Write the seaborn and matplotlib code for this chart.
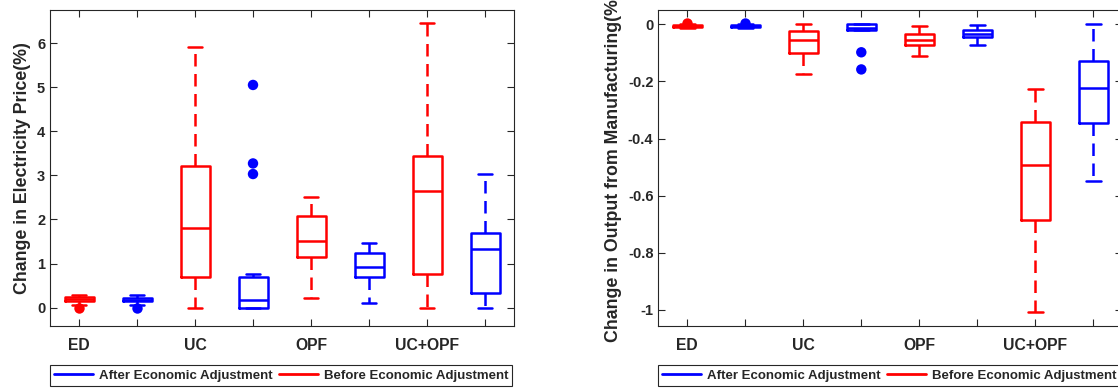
import numpy as np
import pandas as pd
import matplotlib
matplotlib.use("Agg")
import matplotlib.pyplot as plt
from matplotlib.lines import Line2D
from matplotlib.ticker import FuncFormatter
import seaborn as sns

# ---------------- data ----------------
methods = ["ED", "UC", "OPF", "UC+OPF"]
series = ["Before Economic Adjustment", "After Economic Adjustment"]

# five-number summaries per method: [low whisker, Q1, median, Q3, high whisker]
price_before = [[0.07, 0.15, 0.19, 0.23, 0.29],
                [0.00, 0.70, 1.80, 3.22, 5.90],
                [0.21, 1.14, 1.52, 2.08, 2.52],
                [0.00, 0.76, 2.65, 3.44, 6.45]]
price_after = [[0.07, 0.15, 0.18, 0.22, 0.29],
               [0.00, 0.00, 0.17, 0.70, 0.77],
               [0.11, 0.69, 0.91, 1.23, 1.47],
               [0.00, 0.34, 1.32, 1.70, 3.03]]
price_before_out = [[0.0], [], [], []]
price_after_out = [[0.0], [3.03, 3.27, 5.05], [], []]

output_before = [[-0.012, -0.009, -0.005, -0.002, 0.000],
                 [-0.175, -0.100, -0.056, -0.022, 0.000],
                 [-0.111, -0.073, -0.054, -0.033, -0.006],
                 [-1.006, -0.686, -0.491, -0.342, -0.228]]
output_after = [[-0.012, -0.009, -0.005, -0.002, 0.000],
                [-0.021, -0.021, -0.012, 0.000, 0.000],
                [-0.071, -0.044, -0.033, -0.019, -0.001],
                [-0.549, -0.344, -0.223, -0.128, 0.000]]
output_before_out = [[0.004], [], [], []]
output_after_out = [[0.004], [-0.098, -0.158], [], []]

price_label = "Change in Electricity Price(%)"
output_label = "Change in Output from Manufacturing(%)"

colors = {"Before Economic Adjustment": "#ff0000",
          "After Economic Adjustment": "#0000ff"}

# ---------------- style ----------------
sns.set_style("ticks")
plt.rcParams["font.family"] = ["Liberation Sans", "DejaVu Sans"]
plt.rcParams["font.weight"] = "bold"
plt.rcParams["axes.labelweight"] = "bold"
plt.rcParams["axes.unicode_minus"] = False

order = [f"{m}|{s}" for m in methods for s in series]


def build(before, after, before_out, after_out):
    rows, orows = [], []
    for i, m in enumerate(methods):
        for s, vals, outs in ((series[0], before[i], before_out[i]),
                              (series[1], after[i], after_out[i])):
            for v in vals:
                rows.append({"key": f"{m}|{s}", "series": s, "value": v})
            for v in outs:
                orows.append({"key": f"{m}|{s}", "series": s, "value": v})
    return pd.DataFrame(rows), pd.DataFrame(orows)


def draw(ax, before, after, before_out, after_out, ylim, yticks, ylabel):
    df, dfo = build(before, after, before_out, after_out)
    sns.boxplot(data=df, x="key", y="value", hue="series", order=order,
                hue_order=series, palette=colors, dodge=False, fill=False,
                width=0.5, whis=(0, 100), linewidth=1.8, showfliers=False,
                whiskerprops=dict(linestyle=(0, (5, 3))),
                legend=False, ax=ax)
    sns.stripplot(data=dfo, x="key", y="value", hue="series", order=order,
                  hue_order=series, palette=colors, jitter=False, dodge=False,
                  size=7.5, linewidth=0, legend=False, ax=ax, zorder=5)
    ax.set_xlim(-0.5, 7.5)
    ax.set_ylim(*ylim)
    ax.set_yticks(yticks)
    ax.yaxis.set_major_formatter(FuncFormatter(lambda v, p: f"{v:g}" if abs(v) > 1e-9 else "0"))
    ax.set_xticks(range(len(order)))
    ax.set_xticklabels([m if i % 2 == 0 else "" for i, m in
                        enumerate([k.split("|")[0] for k in order])])
    ax.set_xlabel("")
    ax.set_ylabel(ylabel, fontsize=12.8, fontweight="bold", color="#262626", labelpad=4.5)
    for sp in ax.spines.values():
        sp.set_visible(True)
        sp.set_color("#262626")
        sp.set_linewidth(0.8)
    ax.tick_params(direction="in", length=5, width=0.8, top=True, right=True,
                   color="#262626", labelcolor="#262626")
    ax.tick_params(axis="x", pad=8.5, labelsize=11.3)
    ax.tick_params(axis="y", pad=3.5, labelsize=10.5)
    for t in ax.get_xticklabels() + ax.get_yticklabels():
        t.set_fontweight("bold")


W, H = 1118, 388
fig = plt.figure(figsize=(W / 100, H / 100), dpi=100)
ax1 = fig.add_axes([50 / W, 62.3 / H, 464 / W, 315.7 / H])
ax2 = fig.add_axes([658.3 / W, 62.3 / H, 464 / W, 315.7 / H])

draw(ax1, price_before, price_after, price_before_out, price_after_out,
     (-0.41, 6.75), [0, 1, 2, 3, 4, 5, 6], price_label)
draw(ax2, output_before, output_after, output_before_out, output_after_out,
     (-1.055, 0.05), [-1, -0.8, -0.6, -0.4, -0.2, 0], output_label)

handles = [Line2D([0], [0], color=colors[series[1]], lw=2),
           Line2D([0], [0], color=colors[series[0]], lw=2)]
labels = [series[1], series[0]]
for cx in (281 / W, 889 / W):
    leg = fig.legend(handles, labels, loc="center", bbox_to_anchor=(cx, 12.5 / H),
                     ncol=2, fontsize=9.5, frameon=True, fancybox=False,
                     edgecolor="#262626", framealpha=1, handlelength=3.0,
                     handletextpad=0.4, columnspacing=0.5, borderpad=0.3,
                     borderaxespad=0)
    leg.get_frame().set_linewidth(0.8)
    for t in leg.get_texts():
        t.set_fontweight("bold")

fig.savefig("out.png", dpi=100)
